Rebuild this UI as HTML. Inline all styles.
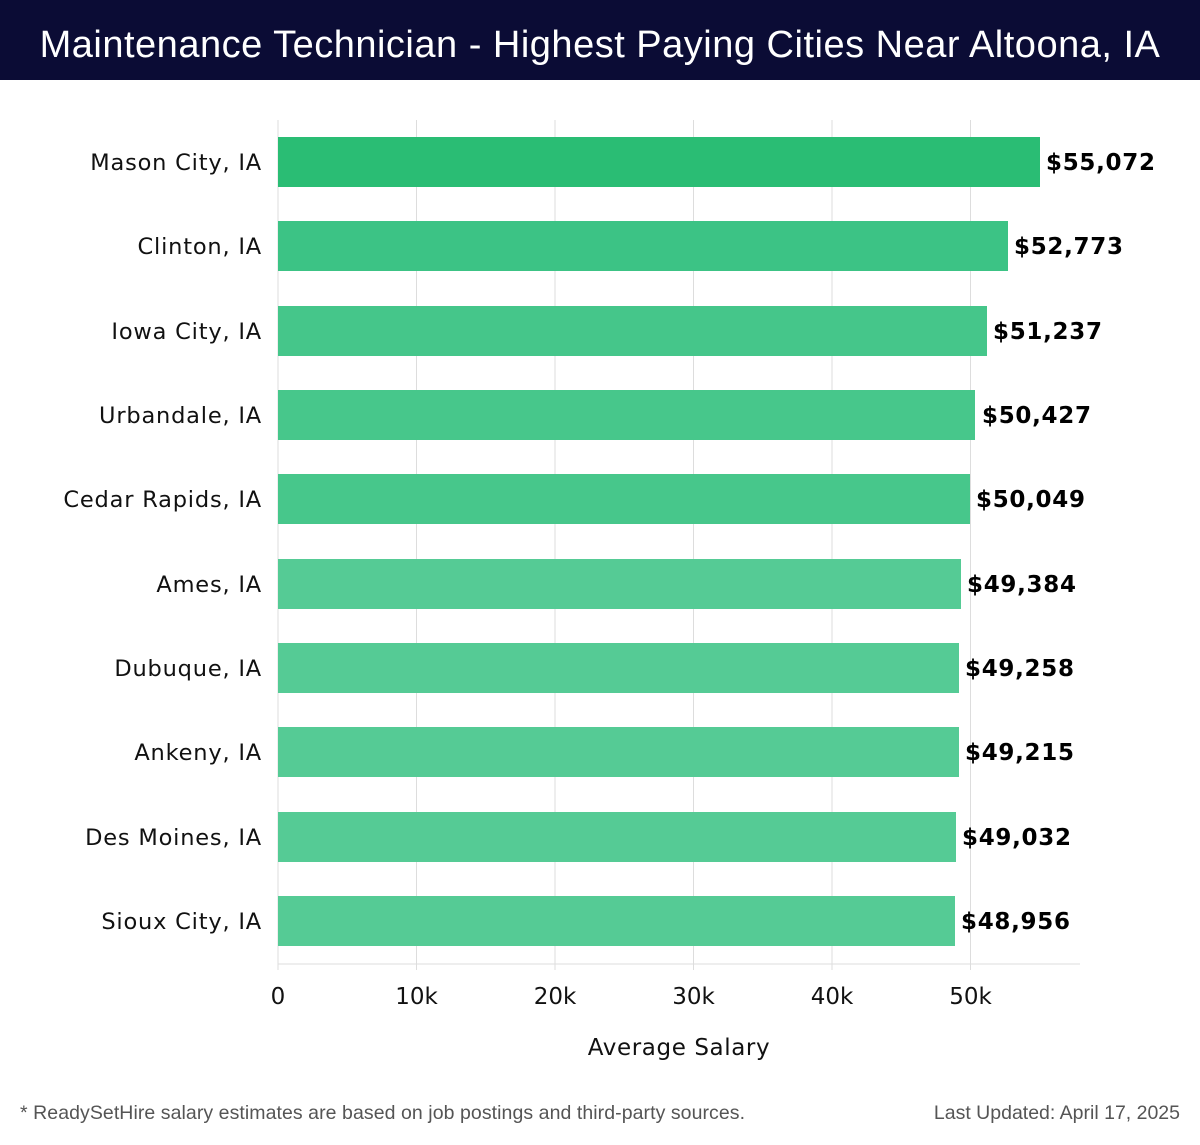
<!DOCTYPE html>
<html><head><meta charset="utf-8"><style>
body{margin:0;width:1200px;height:1140px;background:#fff;overflow:hidden;font-family:"Liberation Sans","DejaVu Sans",sans-serif}
</style></head><body>
<svg width="1200" height="1140" xmlns="http://www.w3.org/2000/svg" font-family="DejaVu Sans, Liberation Sans, sans-serif">
<rect x="0" y="0" width="1200" height="80" fill="#0b0c35"/>
<text x="600" y="57" text-anchor="middle" fill="#fff" font-size="38" letter-spacing="0.5" font-family="Liberation Sans, sans-serif">Maintenance Technician - Highest Paying Cities Near Altoona, IA</text>
<g stroke="#dddddd" stroke-width="1">
<line x1="416.5" y1="120" x2="416.5" y2="964"/>
<line x1="555" y1="120" x2="555" y2="964"/>
<line x1="693.5" y1="120" x2="693.5" y2="964"/>
<line x1="832" y1="120" x2="832" y2="964"/>
<line x1="970.5" y1="120" x2="970.5" y2="964"/>
<line x1="278" y1="120" x2="278" y2="970"/>
<line x1="278" y1="964" x2="1080" y2="964"/>
<line x1="416.5" y1="964" x2="416.5" y2="970"/>
<line x1="555" y1="964" x2="555" y2="970"/>
<line x1="693.5" y1="964" x2="693.5" y2="970"/>
<line x1="832" y1="964" x2="832" y2="970"/>
<line x1="970.5" y1="964" x2="970.5" y2="970"/>
</g>
<g>
<rect x="278" y="137" width="762" height="50" fill="#2abd74"/>
<rect x="278" y="221" width="730" height="50" fill="#3cc385"/>
<rect x="278" y="306" width="709" height="50" fill="#45c68a"/>
<rect x="278" y="390" width="697" height="50" fill="#47c78b"/>
<rect x="278" y="474" width="692" height="50" fill="#47c78b"/>
<rect x="278" y="559" width="683" height="50" fill="#55cb95"/>
<rect x="278" y="643" width="681" height="50" fill="#55cb95"/>
<rect x="278" y="727" width="681" height="50" fill="#55cb95"/>
<rect x="278" y="812" width="678" height="50" fill="#55cb95"/>
<rect x="278" y="896" width="677" height="50" fill="#55cb95"/>
</g>
<g font-size="22.5" fill="#111" text-anchor="end" letter-spacing="0.8">
<text x="262" y="170">Mason City, IA</text>
<text x="262" y="254">Clinton, IA</text>
<text x="262" y="339">Iowa City, IA</text>
<text x="262" y="423">Urbandale, IA</text>
<text x="262" y="507">Cedar Rapids, IA</text>
<text x="262" y="592">Ames, IA</text>
<text x="262" y="676">Dubuque, IA</text>
<text x="262" y="760">Ankeny, IA</text>
<text x="262" y="845">Des Moines, IA</text>
<text x="262" y="929">Sioux City, IA</text>
</g>
<g font-size="23" font-weight="bold" fill="#000" letter-spacing="0.7">
<text x="1046" y="170">$55,072</text>
<text x="1014" y="254">$52,773</text>
<text x="993" y="339">$51,237</text>
<text x="982" y="423">$50,427</text>
<text x="976" y="507">$50,049</text>
<text x="967" y="592">$49,384</text>
<text x="965" y="676">$49,258</text>
<text x="965" y="760">$49,215</text>
<text x="962" y="845">$49,032</text>
<text x="961" y="929">$48,956</text>
</g>
<g font-size="23" fill="#111" text-anchor="middle">
<text x="278" y="1004">0</text>
<text x="416.5" y="1004">10k</text>
<text x="555" y="1004">20k</text>
<text x="693.5" y="1004">30k</text>
<text x="832" y="1004">40k</text>
<text x="970.5" y="1004">50k</text>
<text x="679" y="1055" letter-spacing="0.6">Average Salary</text>
</g>
<text x="20" y="1119" font-size="19.5" fill="#555" font-family="Liberation Sans, sans-serif" textLength="725">* ReadySetHire salary estimates are based on job postings and third-party sources.</text>
<text x="1180" y="1119" font-size="19.5" fill="#555" text-anchor="end" font-family="Liberation Sans, sans-serif">Last Updated: April 17, 2025</text>
</svg>
</body></html>
